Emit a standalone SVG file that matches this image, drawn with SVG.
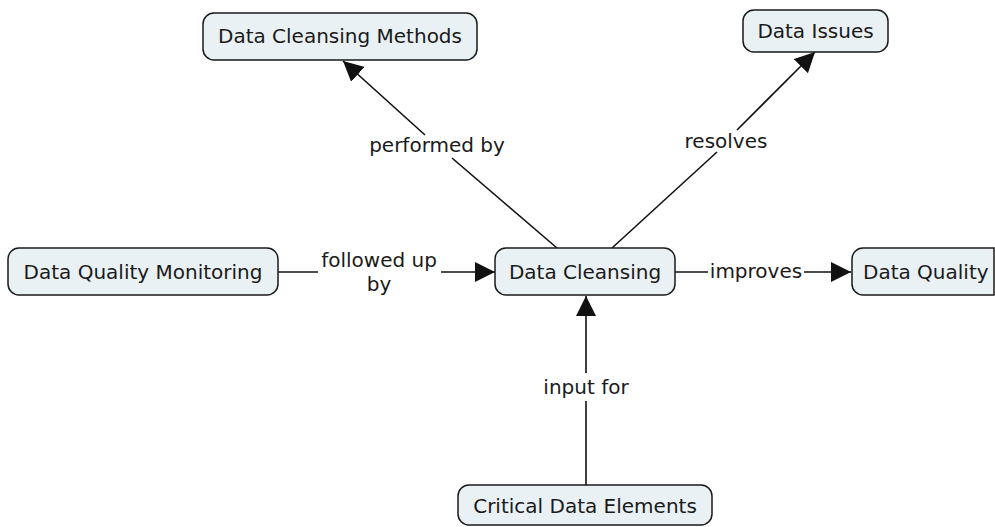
<svg xmlns="http://www.w3.org/2000/svg" width="995" height="527" viewBox="0 0 995 527">
<defs>
<style>
.box{fill:#eaf1f4;stroke:#1a1a1a;stroke-width:1.5}
.t{font-family:"DejaVu Sans","Verdana",sans-serif;font-size:20px;fill:#1a1a1a}
.c{text-anchor:middle}
.ln{stroke:#111;stroke-width:1.6;fill:none}
</style>
<marker id="arr" viewBox="0 0 20 20" refX="20" refY="10" markerWidth="20" markerHeight="20" markerUnits="userSpaceOnUse" orient="auto">
<path d="M0,0 L20,10 L0,20 Z" fill="#111"/>
</marker>
</defs>
<rect width="995" height="527" fill="#ffffff"/>
<g id="connectors">
<line class="ln" x1="278" y1="272" x2="318" y2="272"/>
<line class="ln" x1="441" y1="272" x2="495" y2="272" marker-end="url(#arr)"/>
<line class="ln" x1="675" y1="272" x2="708" y2="272"/>
<line class="ln" x1="804" y1="272" x2="851" y2="272" marker-end="url(#arr)"/>
<line class="ln" x1="586" y1="373" x2="586" y2="296" marker-end="url(#arr)"/>
<line class="ln" x1="586" y1="401" x2="586" y2="485"/>
<line class="ln" x1="557" y1="248" x2="452" y2="158"/>
<line class="ln" x1="425" y1="135" x2="343" y2="61" marker-end="url(#arr)"/>
<line class="ln" x1="612" y1="248" x2="717" y2="152"/>
<line class="ln" x1="737" y1="130" x2="815" y2="52" marker-end="url(#arr)"/>
<text class="t c" x="379" y="267">followed up</text>
<text class="t c" x="379" y="291">by</text>
<text class="t c" x="756" y="278">improves</text>
<text class="t c" x="586" y="394">input for</text>
<text class="t c" x="437" y="152">performed by</text>
<text class="t c" x="726" y="148">resolves</text>
</g>
<g id="n-dcm">
<rect class="box" x="203" y="13" width="274" height="47" rx="11"/>
<text class="t c" x="340" y="43">Data Cleansing Methods</text>
</g>
<g id="n-di">
<rect class="box" x="743" y="10" width="145" height="42" rx="11"/>
<text class="t c" x="815.5" y="38">Data Issues</text>
</g>
<g id="n-dqm">
<rect class="box" x="8" y="248" width="270" height="47" rx="11"/>
<text class="t c" x="143" y="278.5">Data Quality Monitoring</text>
</g>
<g id="n-dc">
<rect class="box" x="495" y="248" width="180" height="47" rx="11"/>
<text class="t c" x="585" y="278.5">Data Cleansing</text>
</g>
<g id="n-dq">
<path class="box" d="M863,248 H994 V295 H863 A11,11 0 0 1 852,284 V259 A11,11 0 0 1 863,248 Z"/>
<text class="t" x="863" y="278.5">Data Quality</text>
</g>
<g id="n-cde">
<rect class="box" x="458" y="485" width="254" height="40" rx="11"/>
<text class="t c" x="585" y="513">Critical Data Elements</text>
</g>
</svg>
